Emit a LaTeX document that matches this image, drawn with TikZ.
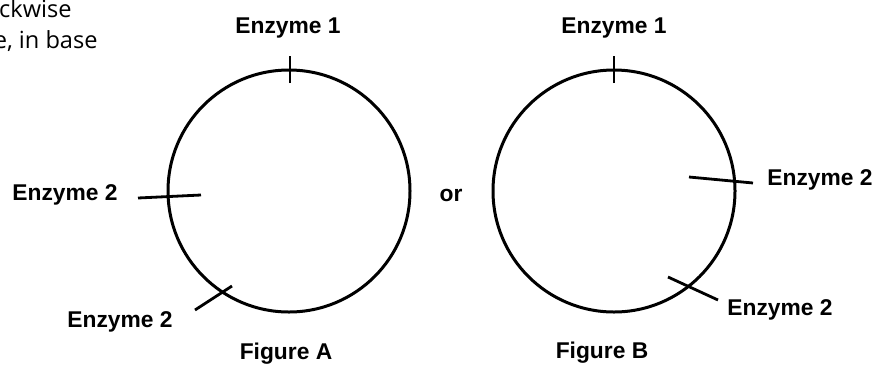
\documentclass[tikz,border=0pt]{standalone}
\usepackage{fontspec}
\setmainfont{Liberation Sans}
\newfontfamily\notefont{Open Sans}
\usetikzlibrary{calc}
\tikzset{
    plasmid/.style={
        draw,
        circle,
        line width=1.5pt,
        minimum size=121pt,
        inner sep=0pt
    },
    cutmark/.style={
        line width=1.4pt
    },
    enzlabel/.style={
        anchor=base,
        inner sep=0pt,
        font=\bfseries\fontsize{11.4}{13}\selectfont
    },
    cutnote/.style={
        anchor=base east,
        inner sep=0pt,
        font=\notefont\fontsize{11.8}{14}\selectfont
    }
}

\begin{document}
\begin{tikzpicture}[x=0.5pt, y=-0.5pt]
        \useasboundingbox (0,0) rectangle (883,365);

        % cut-off text from the page
        \node[cutnote] (noteA) at (72,17) {ckwise};
        \node[cutnote] (noteB) at (98,48) {e, in base};

        % Figure A
        \node[plasmid] (cA) at (289,191) {};
        \coordinate (a1in) at (290,83);
        \coordinate (a1out) at (290,56);
        \coordinate (a2in) at (201,195);
        \coordinate (a2out) at (138,198);
        \coordinate (a3in) at (232,286);
        \coordinate (a3out) at (195,310);
        \draw[cutmark] (a1in) -- (a1out);
        \draw[cutmark] (a2in) -- (a2out);
        \draw[cutmark] (a3in) -- (a3out);

        \node[enzlabel] (eA1) at (288,33) {Enzyme 1};
        \node[enzlabel] (eA2) at (65,200) {Enzyme 2};
        \node[enzlabel] (eA3) at (120,327) {Enzyme 2};
        \node[enzlabel] (figA) at (286,359) {Figure A};

        \node[enzlabel] (or) at (451,201) {or};

        % Figure B
        \node[plasmid] (cB) at (614,191) {};
        \coordinate (b1in) at (614,83);
        \coordinate (b1out) at (614,56);
        \coordinate (b2in) at (689,177);
        \coordinate (b2out) at (753,183);
        \coordinate (b3in) at (668,277);
        \coordinate (b3out) at (718,300);
        \draw[cutmark] (b1in) -- (b1out);
        \draw[cutmark] (b2in) -- (b2out);
        \draw[cutmark] (b3in) -- (b3out);

        \node[enzlabel] (eB1) at (614,33) {Enzyme 1};
        \node[enzlabel] (eB2) at (820,185) {Enzyme 2};
        \node[enzlabel] (eB3) at (780,315) {Enzyme 2};
        \node[enzlabel] (figB) at (602,358) {Figure B};
    \end{tikzpicture}
\end{document}
